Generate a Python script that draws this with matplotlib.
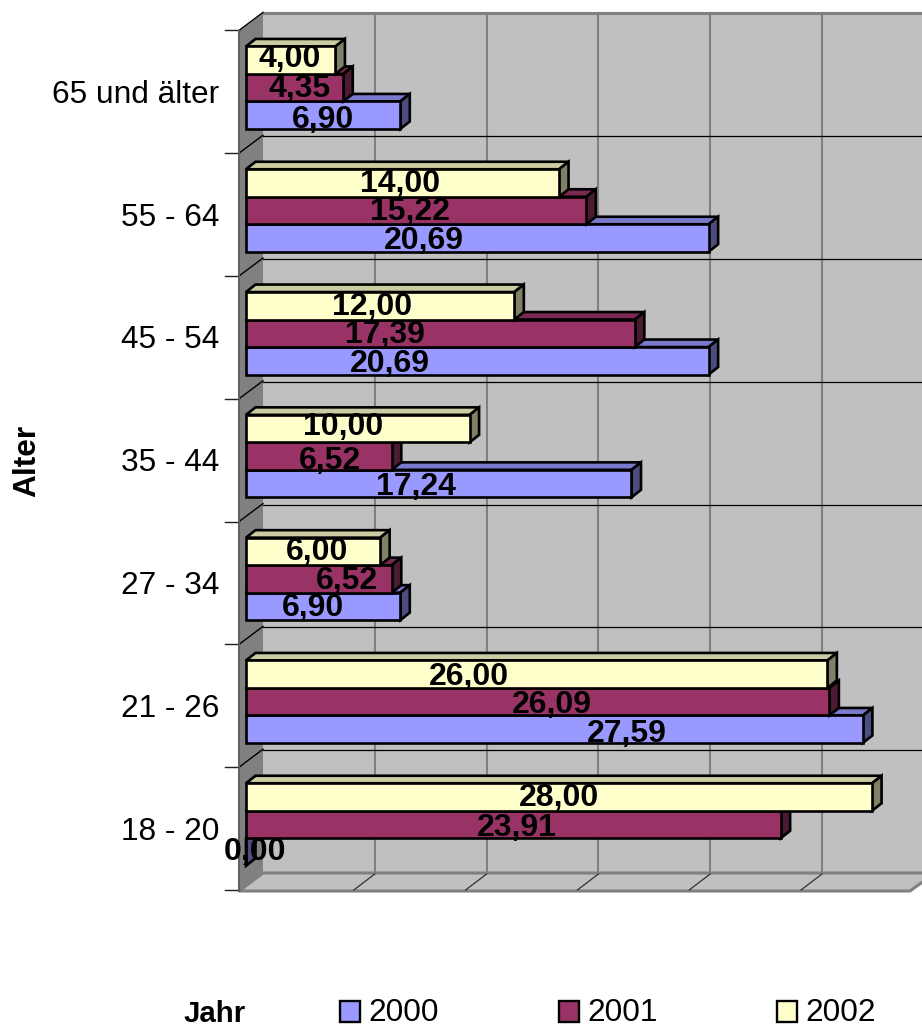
import matplotlib
matplotlib.use('Agg')
import matplotlib.pyplot as plt
from matplotlib.patches import Polygon, Rectangle

plt.rcParams['font.family'] = ['Liberation Sans', 'DejaVu Sans']

categories = ['18 - 20', '21 - 26', '27 - 34', '35 - 44', '45 - 54', '55 - 64', '65 und älter']
values_2000 = [0.00, 27.59, 6.90, 17.24, 20.69, 20.69, 6.90]
values_2001 = [23.91, 26.09, 6.52, 6.52, 17.39, 15.22, 4.35]
values_2002 = [28.00, 26.00, 6.00, 10.00, 12.00, 14.00, 4.00]
years = ['2000', '2001', '2002']
grid_values = [0, 5, 10, 15, 20, 25]

# pixel layout of the fake 3d box
W, H = 922, 1026
PX_PER_VALUE = 22.36
PX_PER_CAT = 122.8
X0 = 246.0      # value 0 on the front of the bars
Y0 = 828.5      # centre of first category


def x_of(px):
    return (px - X0) / PX_PER_VALUE


def y_of(py):
    return (Y0 - py) / PX_PER_CAT


def pts(*pairs):
    return [(x_of(a), y_of(b)) for a, b in pairs]


fig = plt.figure(figsize=(W / 100, H / 100), dpi=100)
ax = fig.add_axes([0, 0, 1, 1])
ax.set_xlim(x_of(0), x_of(W))
ax.set_ylim(y_of(H), y_of(0))
ax.axis('off')

GREY = '#c0c0c0'
DARK = '#808080'

# walls and floor
ax.add_patch(Rectangle((x_of(263), y_of(873)), x_of(W + 5) - x_of(263), y_of(13) - y_of(873),
                       fc=GREY, ec='none', zorder=1))
ax.add_patch(Polygon(pts((239, 31), (263, 13), (263, 873), (239, 891)), fc=DARK, ec='none', zorder=1))
ax.add_patch(Polygon(pts((239, 891), (263, 873), (935, 873), (910, 891)), fc=GREY, ec=DARK, lw=2.2, zorder=1.5))
ax.plot([x_of(263), x_of(W)], [y_of(13), y_of(13)], color=DARK, lw=2.2, zorder=1.6)

# gridlines on back wall, diagonal on the floor
for g in grid_values[1:]:
    gx = 263 + g * PX_PER_VALUE
    ax.plot([x_of(gx)] * 2, [y_of(13), y_of(873)], color=DARK, lw=1.5, zorder=2)
    ax.plot([x_of(gx), x_of(gx - 21)], [y_of(874), y_of(890)], color='#303030', lw=0.9, zorder=2)

for i in range(len(categories) + 1):
    ty = 890 - i * PX_PER_CAT
    ax.plot([x_of(225), x_of(239)], [y_of(ty)] * 2, color='#202020', lw=1.0, zorder=2)
    if i > 0:
        ax.plot([x_of(239), x_of(263)], [y_of(ty), y_of(ty - 18)], color='black', lw=1.0, zorder=2)
    if 0 < i < len(categories):
        ax.plot([x_of(263), x_of(W)], [y_of(ty - 17)] * 2, color='black', lw=0.9, zorder=2)
ax.plot([x_of(239)] * 2, [y_of(31), y_of(891)], color='#606060', lw=1.4, zorder=2)

# bars, 3 faces each
series = [values_2000, values_2001, values_2002]
front_cols = ['#9999ff', '#993366', '#ffffcc']
top_cols = ['#7a7acc', '#7a2952', '#cccca3']
side_cols = ['#4d4d80', '#4d1a33', '#808066']
shift_px = [23.5, -4.0, -31.5]  # bar centre relative to category centre
BAR_PX = 27.5
DX, DY = 9.5, 7.5

for s, vals in enumerate(series):
    for c, v in enumerate(vals):
        yc = c + y_of(Y0 + shift_px[s])
        h = BAR_PX / PX_PER_CAT
        xr = v
        ddx, ddy = DX / PX_PER_VALUE, DY / PX_PER_CAT
        z = 3 + s * 0.1
        lw = 1.9
        ax.add_patch(Polygon([(0, yc + h / 2), (ddx, yc + h / 2 + ddy), (xr + ddx, yc + h / 2 + ddy), (xr, yc + h / 2)],
                             fc=top_cols[s], ec='black', lw=lw, zorder=z))
        ax.add_patch(Polygon([(xr, yc - h / 2), (xr + ddx, yc - h / 2 + ddy), (xr + ddx, yc + h / 2 + ddy), (xr, yc + h / 2)],
                             fc=side_cols[s], ec='black', lw=lw, zorder=z))
        ax.barh(yc, v, height=h, left=0, color=front_cols[s], edgecolor='black', linewidth=lw, zorder=z + 0.01)

# category labels
for c, name in enumerate(categories):
    ax.text(x_of(219), y_of(Y0 + 3) + c, name, ha='right', va='center', fontsize=22.8, color='black', zorder=6)

label_px_2000 = [(255, 849), (627, 731), (313, 605), (416, 484), (390, 361), (424, 238), (323, 117)]
label_px_2001 = [(517, 825), (552, 702), (347, 578), (330, 458), (385, 332), (410, 209), (300, 86)]
label_px_2002 = [(559, 795), (469, 674), (317, 549), (343, 424), (372, 304), (400, 181), (290, 56)]
for vals, where in zip(series, [label_px_2000, label_px_2001, label_px_2002]):
    for v, (px, py) in zip(vals, where):
        ax.text(x_of(px), y_of(py + 3), f'{v:.2f}'.replace('.', ','), ha='center', va='center',
                fontsize=23.0, fontweight='bold', color='black', zorder=7)

# axis title and legend
ax.text(x_of(27), y_of(461), 'Alter', rotation=90, ha='center', va='center',
        fontsize=22.8, fontweight='bold', zorder=6)
ax.text(x_of(215), y_of(1013.5), 'Jahr', ha='center', va='center',
        fontsize=21.2, fontweight='bold', zorder=6)
for left, year, col in zip([340, 559, 777], years, front_cols):
    ax.add_patch(Rectangle((x_of(left), y_of(1022)), 20 / PX_PER_VALUE, 21 / PX_PER_CAT,
                           fc=col, ec='black', lw=1.7, zorder=6))
    ax.text(x_of(left + 28), y_of(1013), year, ha='left', va='center', fontsize=22.8, zorder=6)

fig.savefig('out.png', dpi=100)
